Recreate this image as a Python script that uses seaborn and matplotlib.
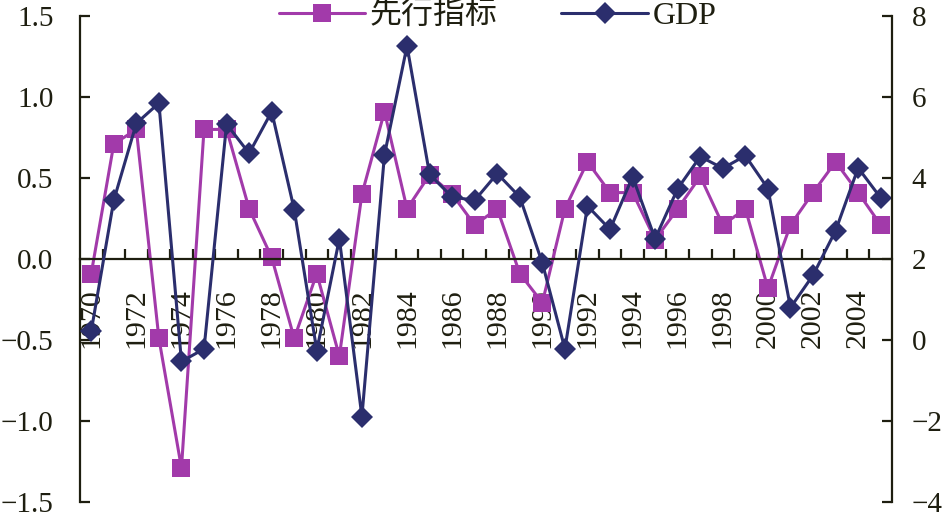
import numpy as np
import pandas as pd
import matplotlib
matplotlib.use('Agg')
import matplotlib.pyplot as plt
import seaborn as sns
from matplotlib.ticker import FuncFormatter

# data
years = list(range(1970, 2006))
leading = [-0.09, 0.71, 0.80, -0.49, -1.29, 0.80, 0.80, 0.31, 0.01, -0.49,
           -0.09, -0.60, 0.40, 0.91, 0.31, 0.52, 0.40, 0.21, 0.31, -0.09,
           -0.27, 0.31, 0.60, 0.41, 0.41, 0.12, 0.31, 0.51, 0.21, 0.31,
           -0.18, 0.21, 0.41, 0.60, 0.41, 0.21]
gdp = [0.22, 3.45, 5.35, 5.85, -0.53, -0.22, 5.33, 4.61, 5.64, 3.22,
       -0.26, 2.50, -1.89, 4.57, 7.26, 4.09, 3.53, 3.45, 4.11, 3.53,
       1.90, -0.22, 3.31, 2.73, 4.03, 2.50, 3.74, 4.53, 4.24, 4.55,
       3.74, 0.80, 1.60, 2.70, 4.25, 3.51]
label_years = list(range(1970, 2005, 2))
left_ticks = [-1.5, -1.0, -0.5, 0.0, 0.5, 1.0, 1.5]
right_ticks = [-4, -2, 0, 2, 4, 6, 8]

magenta = '#A23AAA'
navy = '#2B2E6D'
dark = '#1e1e10'

df = pd.DataFrame({'year': years, 'lead': leading, 'gdp': gdp})

sns.set_style('ticks')
plt.rcParams['font.family'] = ['Liberation Serif', 'Noto Sans CJK SC']
plt.rcParams['axes.unicode_minus'] = True

fig = plt.figure(figsize=(9.44, 5.15), dpi=100)
ax = fig.add_axes([0.0847, 0.0252, 0.8602, 0.9437])
ax2 = ax.twinx()

sns.lineplot(data=df, x='year', y='lead', ax=ax, color=magenta, marker='s',
             markersize=13, markeredgewidth=0, linewidth=2.2, legend=False)
sns.lineplot(data=df, x='year', y='gdp', ax=ax2, color=navy, marker='D',
             markersize=11, markeredgewidth=0, linewidth=2.2, legend=False)

ax.set_xlim(1969.5, 2005.5)
ax.set_ylim(-1.5, 1.5)
ax2.set_ylim(-4, 8)
ax.set_xlabel('')
ax.set_ylabel('')
ax2.set_ylabel('')

# spines
for s in ['top', 'right']:
    ax.spines[s].set_visible(False)
for s in ['top', 'bottom', 'left']:
    ax2.spines[s].set_visible(False)
ax.spines['bottom'].set_position(('data', 0))
for sp in [ax.spines['left'], ax.spines['bottom'], ax2.spines['right']]:
    sp.set_color(dark)
    sp.set_linewidth(1.6)

# y axes
fmt = FuncFormatter(lambda v, _: f'{v:.1f}'.replace('-', '\u2212'))
ax.set_yticks(left_ticks)
ax.yaxis.set_major_formatter(fmt)
ax.tick_params(axis='y', direction='in', length=7, width=1.6, color=dark,
               labelsize=21, pad=19, labelcolor=dark)
ax2.set_yticks(right_ticks)
ax2.yaxis.set_major_formatter(FuncFormatter(lambda v, _: f'{v:.0f}'.replace('-', '\u2212')))
ax2.tick_params(axis='y', direction='in', length=7, width=1.6, color=dark,
                labelsize=21, pad=14, labelcolor=dark)

# x axis: tick marks between categories, labels every other year
ax.set_xticks(np.arange(1970.5, 2005, 1))
ax.set_xticklabels([])
ax.tick_params(axis='x', which='major', direction='in', length=7, width=1.6,
               color=dark)
ax.set_xticks(label_years, minor=True)
ax.set_xticklabels([str(y) for y in label_years], minor=True, rotation=90)
ax.tick_params(axis='x', which='minor', length=0, labelsize=21.5, pad=21,
               labelcolor=dark)

fig.legend([ax.lines[0], ax2.lines[0]], ['先行指标', 'GDP'], loc='center',
           bbox_to_anchor=(0.527, 0.969), ncol=2, frameon=False, fontsize=23,
           handlelength=2.7, handletextpad=0.15, columnspacing=2.0,
           labelcolor=dark)

fig.savefig('out.png', dpi=100)
